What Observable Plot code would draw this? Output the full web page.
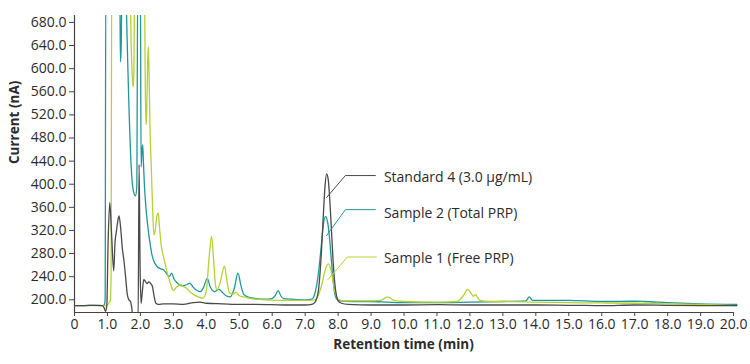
<!DOCTYPE html>
<html><head><meta charset="utf-8">
<script src="https://cdn.jsdelivr.net/npm/d3@7"></script>
<script src="https://cdn.jsdelivr.net/npm/@observablehq/plot@0.6"></script>
<style>body{margin:0;background:#fff} #chart svg{display:block}</style>
</head><body><div id="chart"></div>
<script>
// Standard 4 (3.0 µg/mL)
const stdT = [0,0.3,0.6,0.85,0.9,0.94,0.98,1.02,1.07,1.12,1.19,1.23,1.27,1.31,1.35,1.40,1.45,1.5,1.55,1.6,1.65,1.7,1.74,1.78,1.93,1.96,1.99,2.02,2.06,2.1,2.15,2.2,2.25,2.3,2.36,2.42,2.47,2.55,2.7,3.0,3.3,3.6,3.8,4.0,4.5,5.0,5.5,6.0,6.5,7.0,7.2,7.3,7.4,7.45,7.5,7.55,7.6,7.65,7.7,7.75,7.8,7.85,7.9,7.95,8.0,8.1,8.3,9,10,11,12,13,14,15,16,17,18,19,20.1];
const stdV = [190,190,190.5,190,186,180,190,300,368,320,250,300,318,335,345,325,290,268,240,210,200,197,185,165,165,434,260,194,215,235,232,228,231,229,224,205,194,192,193,193,192,195,196,194,193,192,192,191.5,191,191,192,196,215,245,290,345,395,418,408,370,318,265,228,207,198,194,192,191,191,191.5,191,191,191,190.5,190,191,190.5,190,190];
// Sample 2 (Total PRP)
const s2T = [0,0.3,0.6,0.85,0.9,0.93,0.95,1.37,1.39,1.40,1.42,1.44,1.55,1.58,1.62,1.66,1.70,1.75,1.80,1.85,1.89,1.92,2.0,2.02,2.05,2.07,2.09,2.12,2.16,2.2,2.25,2.3,2.35,2.4,2.5,2.6,2.7,2.8,2.87,2.95,3.02,3.12,3.25,3.4,3.5,3.6,3.72,3.82,3.92,4.03,4.12,4.25,4.38,4.5,4.6,4.73,4.85,4.96,5.05,5.14,5.3,5.5,5.8,6.0,6.1,6.18,6.26,6.35,6.6,7.0,7.2,7.3,7.4,7.5,7.55,7.62,7.68,7.75,7.8,7.85,7.9,7.95,8.05,8.5,9,9.5,10,11,12,13,13.7,13.8,13.9,14.5,15,16,17,17.3,18,19,20.1];
const s2V = [190,190,190.5,190,191,200,760,760,640,612,650,760,760,692,600,520,455,405,385,380,395,760,760,430,460,468,440,400,365,340,315,295,278,268,258,254,252,245,240,246,236,229,224,226,229,222,216,214,222,237,222,214,218,212,207,205,220,246,225,209,204,202,201,202,208,216,207,202,201,200,201,212,245,300,330,344,335,300,265,232,210,202,198,197,197,196,195,195,196,197,198,205,199,199,199,197,197.5,197,195,193,192];
// Sample 1 (Free PRP)
const s1T = [0,0.3,0.6,0.9,1.0,1.05,1.09,1.11,1.13,1.68,1.72,1.76,1.78,1.80,1.83,2.12,2.15,2.17,2.19,2.22,2.24,2.26,2.29,2.33,2.37,2.41,2.45,2.5,2.54,2.58,2.63,2.71,2.8,2.9,3.0,3.1,3.22,3.3,3.4,3.5,3.62,3.75,3.9,4.0,4.08,4.16,4.22,4.28,4.33,4.42,4.55,4.62,4.7,4.8,4.9,5.0,5.15,5.29,5.5,6.0,6.5,7.0,7.3,7.4,7.5,7.6,7.7,7.78,7.85,7.92,8.0,8.2,8.8,9.3,9.5,9.7,10,11,11.6,11.8,11.93,12.05,12.1,12.17,12.3,12.6,13,14,15,16,17,18,19,20.1];
const s1V = [190,190,190,190,191,195,200,240,760,760,640,580,568,590,760,760,560,503,520,610,638,600,500,430,360,312,320,345,350,325,295,272,250,230,216,222,226,223,220,214,209,205,203,215,270,310,270,225,217,230,258,235,212,210,213,207,205,203,201,199.5,199,199,200,208,225,250,262,252,230,210,201,198,198,199,205,199,197,196,197,207,218,210,206,209,199,197,197,196,195,194.5,194,193,192,190];

const seriesNames = ["Standard 4 (3.0 µg/mL)", "Sample 2 (Total PRP)", "Sample 1 (Free PRP)"];
const seriesColors = ["#4a4a4a", "#1f9799", "#b5d233"];
// label anchor positions (data units) and leader polylines
const labelT = [9.39, 9.39, 9.39];
const labelV = [411, 349, 271];
const leaderT = [[7.65, 8.22, 9.13], [7.65, 8.22, 9.13], [7.69, 8.28, 9.16]];
const leaderV = [[377, 415, 415], [311, 356, 356], [235, 274, 274]];

const xTicks = d3.range(0, 20.01, 1);
const yTicks = d3.range(200, 681, 40);

const toRows = (T, V) => T.map((t, i) => ({t, v: V[i]}));
const lines = [toRows(stdT, stdV), toRows(s2T, s2V), toRows(s1T, s1V)];
const leaders = leaderT.map((T, i) => toRows(T, leaderV[i]));
const labels = seriesNames.map((name, i) => ({name, t: labelT[i], v: labelV[i]}));

const chart = Plot.plot({
  width: 750, height: 364,
  marginLeft: 74, marginRight: 12, marginTop: 15, marginBottom: 52,
  style: {fontFamily: "'Open Sans', sans-serif", fontSize: "14px", color: "#2b2b2b", background: "#fff"},
  x: {domain: [0, 20.15]},
  y: {domain: [178, 692]},
  marks: [
    Plot.ruleX([0], {y1: 178, y2: 692, stroke: "#444", strokeWidth: 1.2}),
    Plot.ruleY([178], {x1: 0, x2: 20, stroke: "#444", strokeWidth: 1.2}),
    Plot.axisY({ticks: yTicks, tickFormat: d => d.toFixed(1), tickSize: 5, tickPadding: 3, label: null, stroke: "#444", fontSize: 14}),
    Plot.axisX({ticks: xTicks, tickFormat: d => d === 0 ? "0" : d.toFixed(1), tickSize: 4, tickPadding: 3, label: null, stroke: "#444", fontSize: 14}),
    Plot.line(lines[1], {x: "t", y: "v", stroke: seriesColors[1], strokeWidth: 1.3, curve: "monotone-x", clip: true}),
    Plot.line(lines[2], {x: "t", y: "v", stroke: seriesColors[2], strokeWidth: 1.3, curve: "monotone-x", clip: true}),
    Plot.line(lines[0], {x: "t", y: "v", stroke: seriesColors[0], strokeWidth: 1.3, curve: "monotone-x", clip: true}),
    ...leaders.map((L, i) => Plot.line(L, {x: "t", y: "v", stroke: seriesColors[i], strokeWidth: 1})),
    Plot.text(labels, {x: "t", y: "v", text: "name", textAnchor: "start", fill: "#2b2b2b", fontSize: 14}),
    Plot.text(["Current (nA)"], {frameAnchor: "left", dx: -60, rotate: -90, fontWeight: "bold", fill: "#2b2b2b", fontSize: 13.5}),
    Plot.text(["Retention time (min)"], {frameAnchor: "bottom", dx: -3, dy: 36, fontWeight: "bold", fill: "#2b2b2b", fontSize: 13.5})
  ]
});
document.getElementById("chart").appendChild(chart);
</script>
</body></html>
